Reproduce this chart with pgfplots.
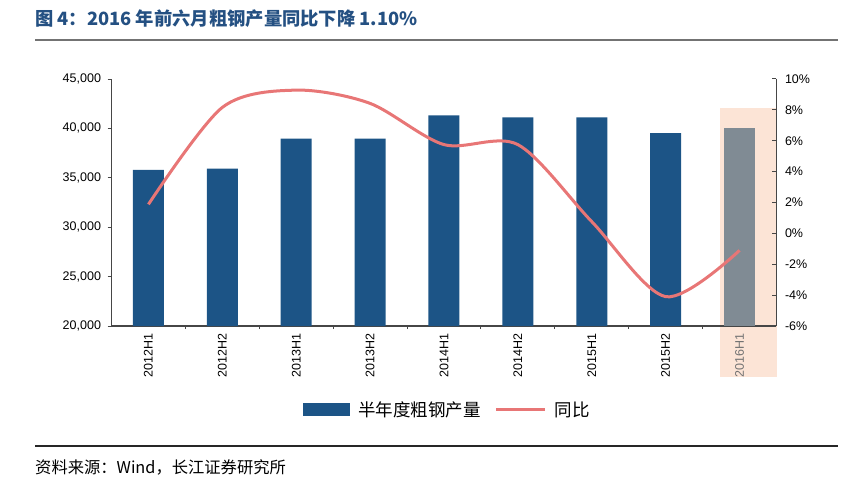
\documentclass[border=0pt]{standalone}
\usepackage{fontspec}
\setmainfont{Liberation Sans}
\newfontfamily\cjk{Noto Sans CJK SC}
\usepackage{pgfplots}
\pgfplotsset{compat=1.18}

\definecolor{barblue}{RGB}{28,84,134}
\definecolor{bargray}{RGB}{128,139,148}
\definecolor{linered}{RGB}{232,118,118}
\definecolor{hilite}{RGB}{252,228,214}
\definecolor{titleblue}{RGB}{36,80,130}
\definecolor{axisgray}{RGB}{70,70,70}

\begin{document}
\begin{tikzpicture}[x=1pt,y=1pt]
\path (0,0) rectangle (865,488);
% title, rules, source
\node[anchor=west, inner sep=0pt, text=titleblue] at (35,469)
  {\cjk\bfseries\fontsize{18.3}{21}\selectfont 图 4：2016 年前六月粗钢产量同比下降 1.10\%};
\draw[black!55, line width=1.2pt] (35,448) -- (838,448);
\draw[black!85, line width=1.4pt] (35,42) -- (838,42);
\node[anchor=west, inner sep=0pt] at (35,21)
  {\cjk\fontsize{16.3}{18}\selectfont 资料来源：Wind，长江证券研究所};
% highlight band behind 2016H1
\fill[hilite] (720,380) rectangle (777,111);

% bars, left axis
\begin{axis}[
  at={(111.5pt,162pt)}, anchor=south west, scale only axis,
  width=665pt, height=247pt,
  xmin=-0.5, xmax=8.5, ymin=20000, ymax=45000,
  axis x line*=bottom, axis y line*=left,
  axis line style={axisgray, line width=1.3pt, -},
  every tick/.style={axisgray, line width=1pt},
  xtick={0,...,8},
  xticklabels={2012H1,2012H2,2013H1,2013H2,2014H1,2014H2,2015H1,2015H2,\textcolor{black!55}{2016H1}},
  major x tick style={draw=none},
  minor xtick={0.5,1.5,...,7.5},
  minor tick length=3pt,
  xticklabel style={rotate=90, anchor=east, font=\fontsize{12.5}{14}\selectfont},
  ytick={20000,25000,...,45000},
  y tick label style={font=\fontsize{12.5}{14}\selectfont, xshift=-3pt},
  scaled y ticks=false,
  /pgf/number format/.cd, 1000 sep={,}, assume math mode=true, /pgfplots/.cd,
  tick align=outside, major tick length=4pt,
  ybar, bar width=31pt,
  legend style={at={(0.505,-0.34)}, anchor=center, draw=none, fill=none,
    legend columns=2, font=\cjk\fontsize{17.5}{19}\selectfont,
    /tikz/every odd column/.append style={column sep=6pt},
    /tikz/every even column/.append style={column sep=12pt}},
]
\addplot[fill=barblue, draw=none, bar shift=0pt,
  legend image code/.code={\fill[barblue] (0pt,-6.5pt) rectangle (47pt,6.5pt);}]
  coordinates {
  (0,35790) (1,35920) (2,38960) (3,38960) (4,41330) (5,41120) (6,41120) (7,39530)
};
\addlegendentry{半年度粗钢产量}
\addplot[fill=bargray, draw=none, bar shift=0pt, forget plot] coordinates {
  (8,40070)
};
\addlegendimage{legend image code/.code={\draw[linered, line width=3pt] (0pt,0pt) -- (49pt,0pt);}}
\addlegendentry{同比}
\end{axis}

% year-on-year line, right axis
\begin{axis}[
  at={(111.5pt,162pt)}, anchor=south west, scale only axis,
  width=665pt, height=247pt,
  xmin=-0.5, xmax=8.5, ymin=-6, ymax=10,
  axis y line*=right,
  x axis line style={draw=none}, xtick=\empty,
  axis line style={axisgray, line width=1.3pt, -},
  every tick/.style={axisgray, line width=1pt},
  ytick={-6,-4,...,10},
  yticklabel={\pgfmathprintnumber{\tick}\%},
  y tick label style={font=\fontsize{12.5}{14}\selectfont, xshift=5pt},
  /pgf/number format/assume math mode=true,
  tick align=inside, major tick length=4pt,
]
\addplot[linered, line width=3pt, smooth, no markers] coordinates {
  (0,1.88) (1,8.16) (2,9.28) (3,8.42) (4,5.75) (5,5.75) (6,0.76) (7,-4.1) (8,-1.1)
};
\end{axis}
\end{tikzpicture}
\end{document}
